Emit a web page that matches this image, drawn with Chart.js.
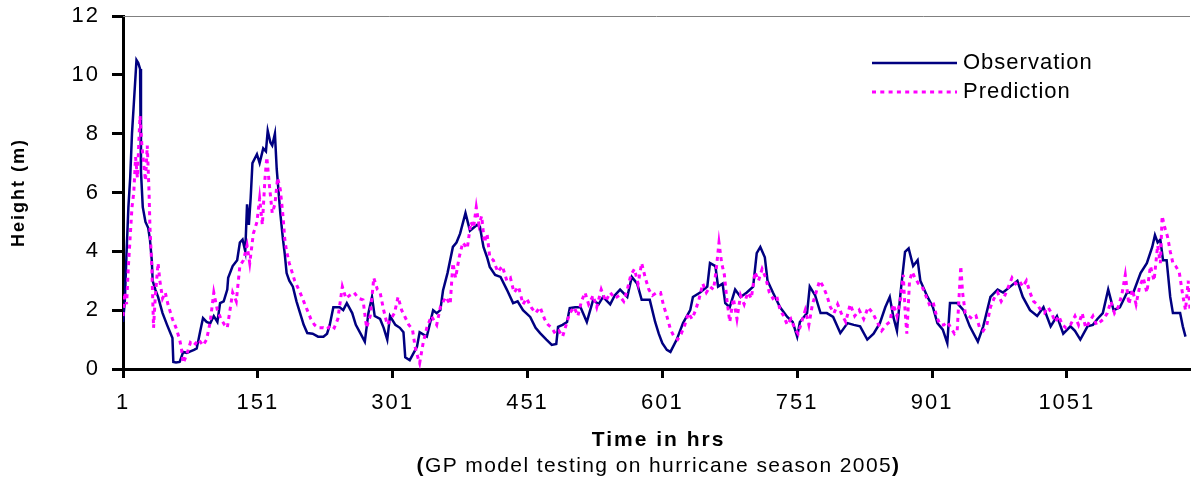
<!DOCTYPE html>
<html lang="en">

<head>
    <meta charset="UTF-8">
    <title>Observed vs predicted wave height</title>
    <script src="https://cdn.jsdelivr.net/npm/chart.js"></script>
    <style>
        body {
            margin: 0;
            background: #ffffff;
        }
        #wrap {
            width: 1191px;
            height: 482px;
        }
    </style>
</head>

<body>
    <div id="wrap">
        <canvas id="heightChart" width="1191" height="482"></canvas>
    </div>

    <script>
        // Observed height (m) by hour
        const obsHours = [1, 3, 5, 7, 9, 11, 13, 15, 16, 18, 20, 21, 23, 26, 29, 31, 33, 34, 37, 40, 45, 50, 56, 57, 60, 64, 68, 72, 76, 80, 83, 87, 90, 94, 98, 102, 106, 109, 113, 117, 118, 123, 128, 131, 134, 137, 139, 141, 143, 145, 150, 153, 157, 160, 162, 165, 167, 170, 172, 176, 179, 181, 183, 186, 190, 194, 198, 202, 206, 212, 218, 224, 228, 231, 235, 242, 246, 250, 256, 260, 265, 270, 274, 278, 281, 287, 291, 295, 298, 304, 309, 313, 315, 320, 328, 331, 339, 346, 350, 354, 357, 362, 368, 372, 376, 382, 387, 391, 395, 398, 402, 406, 409, 415, 421, 428, 435, 440, 446, 454, 460, 465, 472, 478, 483, 485, 490, 495, 498, 504, 510, 517, 524, 530, 535, 543, 548, 554, 562, 567, 573, 578, 587, 593, 597, 601, 606, 610, 617, 624, 632, 635, 643, 651, 654, 660, 663, 668, 671, 676, 682, 688, 695, 702, 706, 710, 715, 718, 724, 732, 740, 746, 751, 754, 762, 765, 771, 777, 784, 791, 799, 807, 814, 821, 829, 836, 843, 849, 854, 858, 862, 866, 871, 875, 880, 885, 888, 896, 902, 907, 913, 918, 921, 929, 936, 943, 952, 958, 966, 974, 980, 988, 996, 1002, 1010, 1018, 1025, 1033, 1040, 1047, 1055, 1060, 1066, 1074, 1080, 1085, 1091, 1097, 1103, 1110, 1118, 1125, 1133, 1140, 1146, 1149, 1152, 1155, 1158, 1162, 1166, 1169, 1173, 1177, 1180, 1183, 1186];
        const obsHeights = [1.6, 2.3, 4.0, 5.5, 6.5, 8.0, 9.0, 10.0, 10.5, 10.4, 10.2, 6.7, 5.5, 5.0, 4.8, 4.4, 3.7, 3.0, 2.7, 2.45, 1.9, 1.5, 1.05, 0.24, 0.22, 0.24, 0.58, 0.55, 0.6, 0.65, 0.7, 1.3, 1.73, 1.6, 1.55, 1.8, 1.6, 2.24, 2.3, 2.7, 3.1, 3.5, 3.7, 4.3, 4.4, 4.0, 5.6, 4.9, 5.8, 7.0, 7.3, 7.0, 7.5, 7.4, 8.1, 7.7, 7.6, 8.0, 6.8, 5.3, 4.4, 3.9, 3.26, 3.0, 2.8, 2.3, 1.9, 1.5, 1.22, 1.2, 1.1, 1.1, 1.2, 1.5, 2.1, 2.1, 2.0, 2.24, 1.9, 1.5, 1.22, 0.93, 1.9, 2.45, 1.8, 1.7, 1.4, 1.0, 1.8, 1.5, 1.4, 1.25, 0.4, 0.3, 0.75, 1.25, 1.1, 2.0, 1.9, 2.0, 2.67, 3.26, 4.15, 4.3, 4.6, 5.3, 4.7, 4.8, 4.9, 4.84, 4.15, 3.8, 3.47, 3.2, 3.13, 2.7, 2.24, 2.3, 2.0, 1.77, 1.4, 1.22, 1.0, 0.82, 0.85, 1.43, 1.5, 1.6, 2.07, 2.1, 2.1, 1.6, 2.35, 2.2, 2.45, 2.2, 2.5, 2.7, 2.45, 3.13, 2.9, 2.35, 2.35, 1.6, 1.2, 0.88, 0.65, 0.58, 1.0, 1.56, 2.0, 2.45, 2.6, 2.8, 3.6, 3.5, 2.8, 2.9, 2.24, 2.1, 2.7, 2.45, 2.6, 2.8, 3.94, 4.15, 3.8, 3.0, 2.6, 2.1, 1.77, 1.6, 1.1, 1.6, 1.9, 2.8, 2.5, 1.9, 1.9, 1.77, 1.22, 1.56, 1.5, 1.45, 1.0, 1.2, 1.56, 2.1, 2.45, 1.77, 1.3, 2.6, 3.98, 4.1, 3.5, 3.7, 3.0, 2.45, 2.1, 1.56, 1.34, 0.88, 2.24, 2.24, 2.0, 1.45, 0.93, 1.45, 2.45, 2.7, 2.6, 2.8, 3.0, 2.45, 2.0, 1.8, 2.1, 1.45, 1.8, 1.2, 1.45, 1.3, 1.0, 1.45, 1.5, 1.7, 1.9, 2.7, 2.0, 2.1, 2.6, 2.6, 3.26, 3.6, 4.15, 4.55, 4.3, 4.4, 3.7, 3.7, 2.45, 1.9, 1.9, 1.9, 1.45, 1.1];

        // Model prediction (m) by hour
        const predHours = [1, 3, 5, 7, 9, 11, 13, 15, 17, 19, 20, 22, 24, 26, 28, 30, 31, 33, 35, 37, 40, 42, 45, 48, 51, 53, 56, 60, 64, 66, 68, 72, 76, 80, 85, 90, 94, 98, 102, 106, 110, 114, 117, 120, 123, 127, 131, 135, 139, 142, 146, 150, 153, 156, 159, 161, 164, 167, 170, 173, 176, 179, 181, 183, 186, 189, 192, 195, 198, 202, 206, 210, 214, 218, 224, 228, 232, 236, 240, 245, 249, 253, 258, 263, 268, 272, 276, 280, 284, 287, 291, 295, 299, 303, 307, 311, 315, 319, 323, 326, 329, 331, 335, 339, 344, 350, 354, 360, 365, 368, 371, 375, 379, 384, 388, 391, 394, 397, 400, 403, 406, 409, 413, 418, 423, 428, 432, 436, 441, 446, 450, 455, 460, 465, 470, 474, 478, 482, 486, 490, 494, 498, 503, 507, 511, 515, 519, 524, 528, 533, 538, 543, 548, 553, 558, 562, 566, 570, 574, 578, 582, 586, 590, 595, 599, 602, 606, 610, 614, 618, 622, 626, 630, 634, 638, 642, 646, 650, 654, 658, 661, 664, 667, 670, 673, 676, 680, 684, 688, 692, 696, 700, 704, 708, 712, 716, 720, 724, 728, 732, 736, 740, 744, 748, 752, 756, 760, 764, 768, 772, 776, 780, 784, 788, 792, 796, 800, 805, 810, 815, 820, 825, 830, 835, 840, 845, 850, 854, 858, 862, 866, 869, 871, 873, 876, 879, 882, 886, 890, 894, 898, 902, 906, 910, 914, 918, 922, 926, 929, 931, 933, 935, 938, 942, 946, 950, 954, 958, 962, 966, 970, 974, 978, 982, 986, 990, 994, 998, 1002, 1006, 1010, 1014, 1018, 1022, 1026, 1030, 1034, 1038, 1042, 1046, 1050, 1055, 1060, 1064, 1068, 1072, 1076, 1080, 1084, 1088, 1092, 1096, 1100, 1104, 1108, 1112, 1116, 1120, 1124, 1128, 1132, 1136, 1140, 1144, 1148, 1152, 1155, 1157, 1160, 1163, 1166, 1169, 1172, 1176, 1180, 1183, 1186, 1188];
        const predHeights = [1.8, 2.6, 2.2, 3.5, 4.5, 5.5, 6.0, 7.2, 6.5, 8.0, 8.6, 7.6, 7.0, 6.4, 7.6, 6.0, 4.8, 3.5, 1.4, 2.5, 3.6, 3.0, 2.4, 2.6, 2.2, 2.0, 1.7, 1.4, 1.0, 0.7, 0.2, 0.5, 0.9, 0.8, 1.0, 0.8, 1.0, 1.6, 2.6, 2.0, 1.7, 1.5, 1.4, 2.0, 2.6, 2.3, 3.5, 3.7, 4.2, 3.6, 4.6, 5.0, 5.8, 4.9, 6.5, 7.2, 6.2, 5.3, 5.6, 6.5, 6.1, 5.2, 4.4, 4.0, 3.6, 3.3, 3.0, 2.8, 2.6, 2.3, 2.0, 1.7, 1.5, 1.4, 1.4, 1.35, 1.5, 1.4, 1.7, 2.8, 2.4, 2.5, 2.6, 2.4, 2.35, 1.4, 1.8, 3.1, 2.7, 2.6, 2.0, 1.5, 1.7, 1.9, 2.45, 2.0, 1.75, 1.5, 1.35, 0.75, 0.4, 0.2, 0.9, 1.4, 1.8, 1.5, 2.1, 2.45, 2.2, 3.6, 3.1, 3.8, 4.3, 4.1, 5.0, 4.8, 5.5, 4.9, 5.2, 4.3, 4.6, 3.8, 3.7, 3.3, 3.5, 3.0, 3.1, 2.6, 2.8, 2.2, 2.4, 2.1, 1.9, 2.1, 1.7, 1.5, 1.4, 1.2, 1.3, 1.1, 1.5, 1.9, 2.1, 1.8, 2.3, 2.6, 2.2, 2.5, 2.1, 2.7, 2.3, 2.6, 2.4, 2.5, 2.3, 2.7, 3.2, 3.4, 2.9, 3.6, 3.1, 2.7, 2.5, 2.6, 2.6, 2.2, 1.8, 1.35, 1.1, 1.0, 1.2, 1.5, 1.9, 1.7, 2.0, 2.4, 2.9, 2.6, 2.8, 2.7, 3.4, 4.3, 3.6, 3.2, 2.3, 1.6, 2.4, 1.7, 2.5, 2.2, 2.6, 2.4, 3.3, 3.0, 3.4, 3.1, 2.6, 2.4, 2.5, 2.0, 1.8, 1.5, 1.7, 1.4, 1.2, 1.6, 2.0, 1.5, 2.2, 2.6, 3.0, 2.8, 2.5, 2.1, 1.9, 2.2, 1.9, 1.6, 2.2, 1.8, 2.0, 1.7, 2.1, 1.9, 1.6, 1.3, 1.5, 1.6, 2.2, 1.8, 2.4, 3.2, 2.0, 1.2, 3.0, 3.3, 3.1, 2.9, 2.8, 2.5, 2.2, 2.3, 1.8, 1.5, 1.5, 1.6, 1.4, 1.2, 1.3, 2.4, 3.5, 2.6, 1.9, 1.8, 1.7, 1.8, 1.4, 1.3, 1.5, 2.1, 2.4, 2.6, 2.3, 2.5, 2.8, 3.1, 2.9, 3.0, 2.8, 3.0, 2.6, 2.3, 2.2, 2.0, 1.9, 2.1, 1.9, 1.6, 1.8, 1.5, 1.4, 1.5, 1.8, 1.5, 1.9, 1.4, 1.6, 1.8, 1.5, 1.6, 1.7, 1.9, 2.3, 1.9, 2.1, 2.5, 3.2, 2.2, 2.7, 2.2, 2.8, 3.1, 2.6, 3.5, 3.0, 4.2, 3.6, 5.2, 4.8, 4.5, 4.0, 3.6, 3.5, 3.3, 2.5, 2.0, 3.0, 2.0];

        // Axis tick labels
        const xTickValues = [1, 151, 301, 451, 601, 751, 901, 1051];
        const yTickValues = [0, 2, 4, 6, 8, 10, 12];

        const FONT = '"Liberation Sans", Arial, sans-serif';
        const NAVY = '#000080';
        const MAGENTA = '#ff00ff';

        const toPoints = (xs, ys) => xs.map((x, i) => ({ x: x, y: ys[i] }));

        // Top border, legend box, x title and caption
        const extras = {
            id: 'extras',
            beforeDraw(chart) {
                chart.ctx.letterSpacing = '2px';
            },
            afterDraw(chart) {
                const ctx = chart.ctx;
                const area = chart.chartArea;
                ctx.save();

                ctx.strokeStyle = '#808080';
                ctx.lineWidth = 1;
                ctx.beginPath();
                ctx.moveTo(area.left, area.top + 0.5);
                ctx.lineTo(area.right, area.top + 0.5);
                ctx.stroke();

                // legend
                const lx = 872, tx = 963;
                ctx.lineWidth = 2.5;
                ctx.strokeStyle = NAVY;
                ctx.beginPath();
                ctx.moveTo(lx, 63);
                ctx.lineTo(957, 63);
                ctx.stroke();
                ctx.strokeStyle = MAGENTA;
                ctx.lineWidth = 3;
                ctx.setLineDash([4, 4.3]);
                ctx.beginPath();
                ctx.moveTo(lx, 92);
                ctx.lineTo(957, 92);
                ctx.stroke();
                ctx.setLineDash([]);

                ctx.fillStyle = '#000';
                ctx.textBaseline = 'middle';
                ctx.textAlign = 'left';
                ctx.letterSpacing = '1px';
                ctx.font = '22px ' + FONT;
                ctx.fillText('Observation', tx, 63);
                ctx.fillText('Prediction', tx, 92);

                // x axis title
                const cx = (area.left + area.right) / 2;
                ctx.textAlign = 'center';
                ctx.letterSpacing = '2px';
                ctx.font = 'bold 21px ' + FONT;
                ctx.fillText('Time in hrs', cx + 2, 440);

                // caption with bold brackets
                ctx.letterSpacing = '1.4px';
                ctx.textAlign = 'left';
                const body = 'GP model testing on hurricane season 2005';
                ctx.font = 'bold 21px ' + FONT;
                const bw = ctx.measureText('(').width;
                ctx.font = '21px ' + FONT;
                const tw = ctx.measureText(body).width;
                let x = cx + 2 - (tw + 2 * bw) / 2;
                ctx.font = 'bold 21px ' + FONT;
                ctx.fillText('(', x, 466);
                ctx.font = '21px ' + FONT;
                ctx.fillText(body, x + bw, 466);
                ctx.font = 'bold 21px ' + FONT;
                ctx.fillText(')', x + bw + tw, 466);

                ctx.restore();
            }
        };

        new Chart(document.getElementById('heightChart'), {
            type: 'line',
            data: {
                datasets: [
                    {
                        label: 'Observation',
                        data: toPoints(obsHours, obsHeights),
                        borderColor: NAVY,
                        borderWidth: 2.5,
                        pointRadius: 0,
                        tension: 0,
                        order: 1
                    },
                    {
                        label: 'Prediction',
                        data: toPoints(predHours, predHeights),
                        borderColor: MAGENTA,
                        borderWidth: 3,
                        borderDash: [4, 4.3],
                        pointRadius: 0,
                        tension: 0,
                        order: 0
                    }
                ]
            },
            options: {
                responsive: false,
                animation: false,
                layout: { padding: { top: 16, right: 1, left: 0, bottom: 0 } },
                plugins: {
                    legend: { display: false },
                    tooltip: { enabled: false }
                },
                scales: {
                    x: {
                        type: 'linear',
                        min: 1,
                        max: 1188,
                        afterBuildTicks: (scale) => {
                            scale.ticks = xTickValues.map(v => ({ value: v }));
                        },
                        afterFit: (scale) => {
                            scale.height = 113;
                            scale.paddingLeft = 0;
                            scale.paddingRight = 0;
                        },
                        border: { display: true, color: '#000', width: 3 },
                        grid: {
                            drawOnChartArea: false,
                            drawTicks: true,
                            tickLength: 9,
                            tickWidth: 3,
                            tickColor: '#000'
                        },
                        ticks: {
                            color: '#000',
                            padding: 12,
                            maxRotation: 0,
                            autoSkip: false,
                            font: { family: FONT, size: 22 },
                            callback: (v) => String(v)
                        }
                    },
                    y: {
                        min: 0,
                        max: 12,
                        afterBuildTicks: (scale) => {
                            scale.ticks = yTickValues.map(v => ({ value: v }));
                        },
                        afterFit: (scale) => {
                            scale.width = 123;
                            scale.paddingTop = 0;
                            scale.paddingBottom = 0;
                        },
                        border: { display: true, color: '#000', width: 3 },
                        grid: {
                            drawOnChartArea: false,
                            drawTicks: true,
                            tickLength: 11,
                            tickWidth: 3,
                            tickColor: '#000'
                        },
                        ticks: {
                            color: '#000',
                            padding: 12,
                            font: { family: FONT, size: 22 }
                        },
                        title: {
                            display: true,
                            text: 'Height (m)',
                            color: '#000',
                            padding: { top: 8, bottom: 0 },
                            font: { family: FONT, size: 18, weight: 'bold' }
                        }
                    }
                }
            },
            plugins: [extras]
        });
    </script>
</body>

</html>
